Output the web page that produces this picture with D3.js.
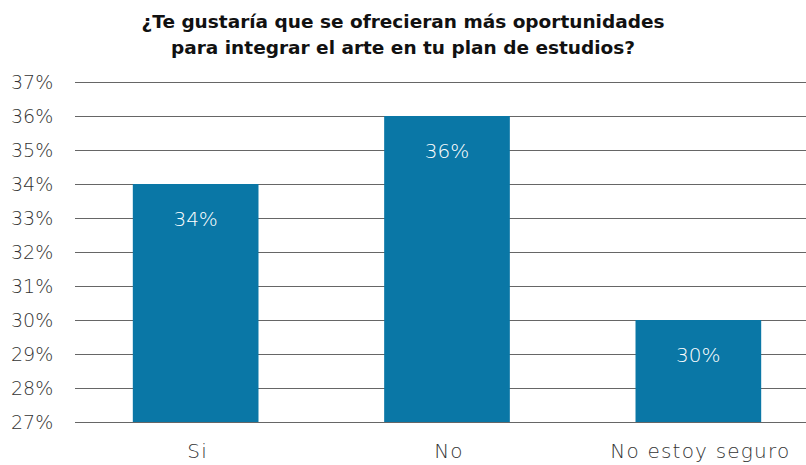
<!DOCTYPE html>
<html><head><meta charset="utf-8">
<script src="https://cdn.jsdelivr.net/npm/d3@7"></script>
<style>body{margin:0;background:#fff}svg{display:block}</style>
</head><body>
<svg id="c" width="806" height="465"></svg>
<script>
const categories = ["Si", "No", "No estoy seguro"];
const values = [34, 36, 30];
const yTicks = [27, 28, 29, 30, 31, 32, 33, 34, 35, 36, 37];
const titleLines = ["¿Te gustaría que se ofrecieran más oportunidades", "para integrar el arte en tu plan de estudios?"];

const svg = d3.select("#c");
const left = 75, right = 806;
const y = d3.scaleLinear().domain([27, 37]).range([422, 82]);
const x = d3.scaleBand().domain(categories).range([75, 819]).paddingInner(0.5).paddingOuter(0.23);
const lightFont = "'DejaVu Sans', sans-serif";

svg.append("g").selectAll("text").data(titleLines).join("text")
  .attr("x", 403).attr("y", (d, i) => 28 + i * 26)
  .attr("text-anchor", "middle")
  .attr("font-family", "'DejaVu Sans', sans-serif").attr("font-weight", 700)
  .attr("font-size", 18.5).attr("fill", "#111").text(d => d);

svg.append("g").selectAll("line").data(yTicks).join("line")
  .attr("x1", left).attr("x2", right)
  .attr("y1", d => Math.round(y(d)) + 0.5).attr("y2", d => Math.round(y(d)) + 0.5)
  .attr("stroke", "#666").attr("stroke-width", 1);

svg.append("g").selectAll("text").data(yTicks).join("text")
  .attr("x", 11).attr("y", d => y(d) + 7)
  .attr("font-family", lightFont).attr("font-weight", 200)
  .attr("font-size", 19).attr("fill", "#333").text(d => d + "%");

svg.append("g").selectAll("rect").data(values).join("rect")
  .attr("x", (d, i) => x(categories[i])).attr("width", x.bandwidth())
  .attr("y", d => y(d)).attr("height", d => y(27) - y(d))
  .attr("fill", "#0a77a6");

svg.append("g").selectAll("text").data(values).join("text")
  .attr("x", (d, i) => x(categories[i]) + x.bandwidth() / 2)
  .attr("y", d => y(d) + 42)
  .attr("text-anchor", "middle")
  .attr("font-family", lightFont).attr("font-weight", 200)
  .attr("font-size", 20).attr("fill", "#fff").text(d => d + "%");

svg.append("g").selectAll("text").data(categories).join("text")
  .attr("x", d => x(d) + x.bandwidth() / 2 + 2).attr("y", 458)
  .attr("text-anchor", "middle")
  .attr("font-family", lightFont).attr("font-weight", 200)
  .attr("font-size", 20).attr("letter-spacing", 1.2)
  .attr("fill", "#333").text(d => d);
</script>
</body></html>
